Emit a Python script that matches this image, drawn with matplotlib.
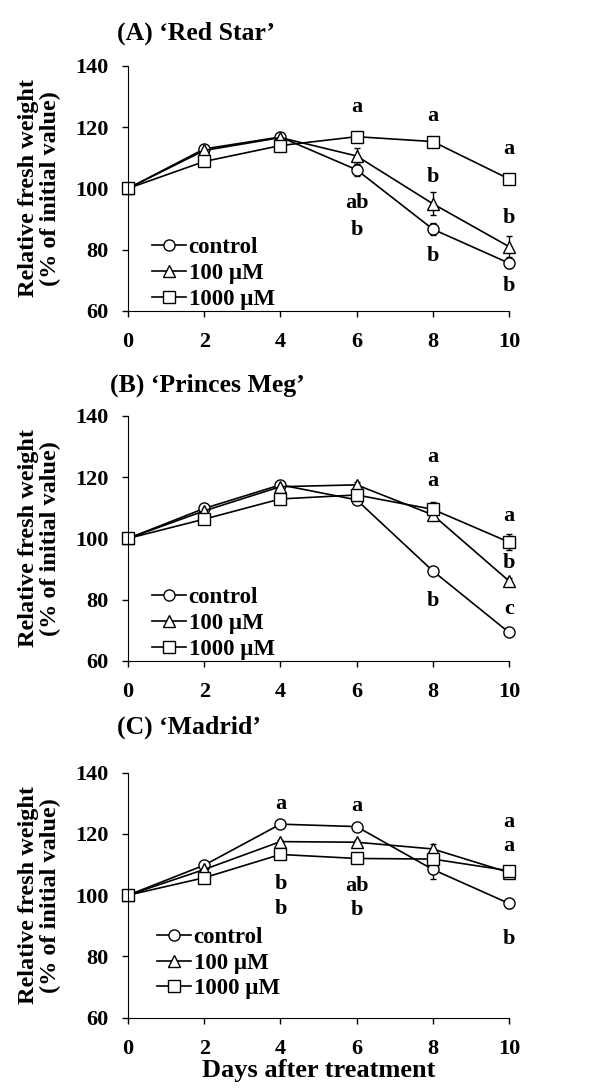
import numpy as np
import matplotlib
matplotlib.use("Agg")
import matplotlib.pyplot as plt
from matplotlib.lines import Line2D

plt.rcParams['font.family'] = ['Liberation Serif', 'DejaVu Serif']
plt.rcParams['font.weight'] = 'bold'

days = [0, 2, 4, 6, 8, 10]
labels = ['control', '100 \u00b5M', '1000 \u00b5M']
markers = ['o', '^', 's']
titles = ['(A) \u2018Red Star\u2019', '(B) \u2018Princes Meg\u2019', '(C) \u2018Madrid\u2019']

# relative fresh weight, one row per treatment
red_star = [[100, 112.9, 116.8, 106.1, 86.7, 75.6],
            [100, 112.4, 116.6, 110.6, 95.0, 81.0],
            [100, 108.8, 114.0, 116.9, 115.3, 103.1]]
red_star_err = [[0, 0.6, 0.6, 2.0, 2.0, 1.5],
                [0, 0.6, 0.6, 2.7, 3.8, 3.5],
                [0, 0.6, 0.6, 1.0, 1.0, 1.0]]

princes_meg = [[100, 109.8, 117.5, 112.6, 89.4, 69.3],
               [100, 109.0, 116.9, 117.5, 107.7, 86.1],
               [100, 106.3, 112.9, 114.2, 109.5, 98.8]]
princes_meg_err = [[0, 0.6, 0.6, 0.8, 0.8, 0.8],
                   [0, 0.6, 0.6, 0.8, 1.0, 1.0],
                   [0, 0.6, 0.6, 1.0, 2.5, 2.5]]

madrid = [[100, 109.8, 123.2, 122.4, 108.4, 97.3],
          [100, 108.4, 117.5, 117.3, 115.1, 107.4],
          [100, 105.7, 113.3, 112.0, 111.8, 108.0]]
madrid_err = [[0, 0.6, 0.6, 0.8, 3.0, 1.5],
              [0, 0.6, 0.6, 0.8, 1.5, 1.0],
              [0, 0.6, 0.6, 0.8, 1.0, 1.0]]

# significance letters (day, y, text)
red_star_letters = [(6, 126.7, 'a'), (6, 95.2, 'ab'), (6, 86.5, 'b'),
                    (8, 123.5, 'a'), (8, 103.6, 'b'), (8, 78.0, 'b'),
                    (10, 112.9, 'a'), (10, 90.3, 'b'), (10, 68.2, 'b')]
princes_meg_letters = [(8, 126.5, 'a'), (8, 118.8, 'a'), (8, 79.7, 'b'),
                       (10, 107.4, 'a'), (10, 91.9, 'b'), (10, 76.9, 'c')]
madrid_letters = [(4, 129.7, 'a'), (4, 103.7, 'b'), (4, 95.4, 'b'),
                  (6, 129.1, 'a'), (6, 103.1, 'ab'), (6, 95.2, 'b'),
                  (10, 123.8, 'a'), (10, 116.2, 'a'), (10, 85.6, 'b')]

panels = [(red_star, red_star_err, red_star_letters),
          (princes_meg, princes_meg_err, princes_meg_letters),
          (madrid, madrid_err, madrid_letters)]

fig = plt.figure(figsize=(5.91, 10.88), dpi=100)

bottoms = [0.7142, 0.3925, 0.0646]
title_pos = [(-0.03, 1.135), (-0.047, 1.127), (-0.03, 1.187)]
legend_pos = [(0.063, 0.005), (0.063, 0.005), (0.076, 0.075)]

for i, (vals, errs, letters) in enumerate(panels):
    ax = fig.add_axes([0.2166, bottoms[i], 0.6447, 0.2252])
    handles = []
    for j in range(3):
        ax.errorbar(days, vals[j], yerr=errs[j], color='black', ecolor='black',
                    marker=markers[j], markersize=8, markerfacecolor='white',
                    markeredgecolor='black', markeredgewidth=1.0, linewidth=1.2,
                    elinewidth=1.0, capsize=2, clip_on=False)
        handles.append(Line2D([], [], color='black', marker=markers[j], markersize=8,
                              markerfacecolor='white', markeredgecolor='black',
                              markeredgewidth=1.0, linewidth=1.2, label=labels[j]))
    for (x, y, t) in letters:
        ax.text(x, y, t, ha='center', va='center', fontsize=16, fontweight='bold')

    ax.set_xlim(0, 10)
    ax.set_ylim(60, 140)
    ax.set_xticks(days)
    ax.set_yticks([60, 80, 100, 120, 140])
    ax.spines['top'].set_visible(False)
    ax.spines['right'].set_visible(False)
    ax.tick_params(direction='out', length=4, width=1, labelsize=16)
    ax.tick_params(axis='x', pad=11)
    ax.tick_params(axis='y', pad=10)
    for lab in ax.get_xticklabels() + ax.get_yticklabels():
        lab.set_fontweight('bold')
    ax.set_ylabel('Relative fresh weight\n(% of initial value)', fontsize=17.5,
                  fontweight='bold', labelpad=10, linespacing=1.05)

    ax.text(title_pos[i][0], title_pos[i][1], titles[i], transform=ax.transAxes,
            ha='left', va='center', fontsize=18.5, fontweight='bold')

    leg = ax.legend(handles=handles, loc='lower left', bbox_to_anchor=legend_pos[i],
                    frameon=False, fontsize=16.5, handlelength=1.5, handletextpad=0.1,
                    labelspacing=0.2, borderpad=0, borderaxespad=0)
    for t in leg.get_texts():
        t.set_fontweight('bold')

    if i == 2:
        ax.set_xlabel('Days after treatment', fontsize=19, fontweight='bold', labelpad=0)

fig.savefig('out.png', dpi=100)
